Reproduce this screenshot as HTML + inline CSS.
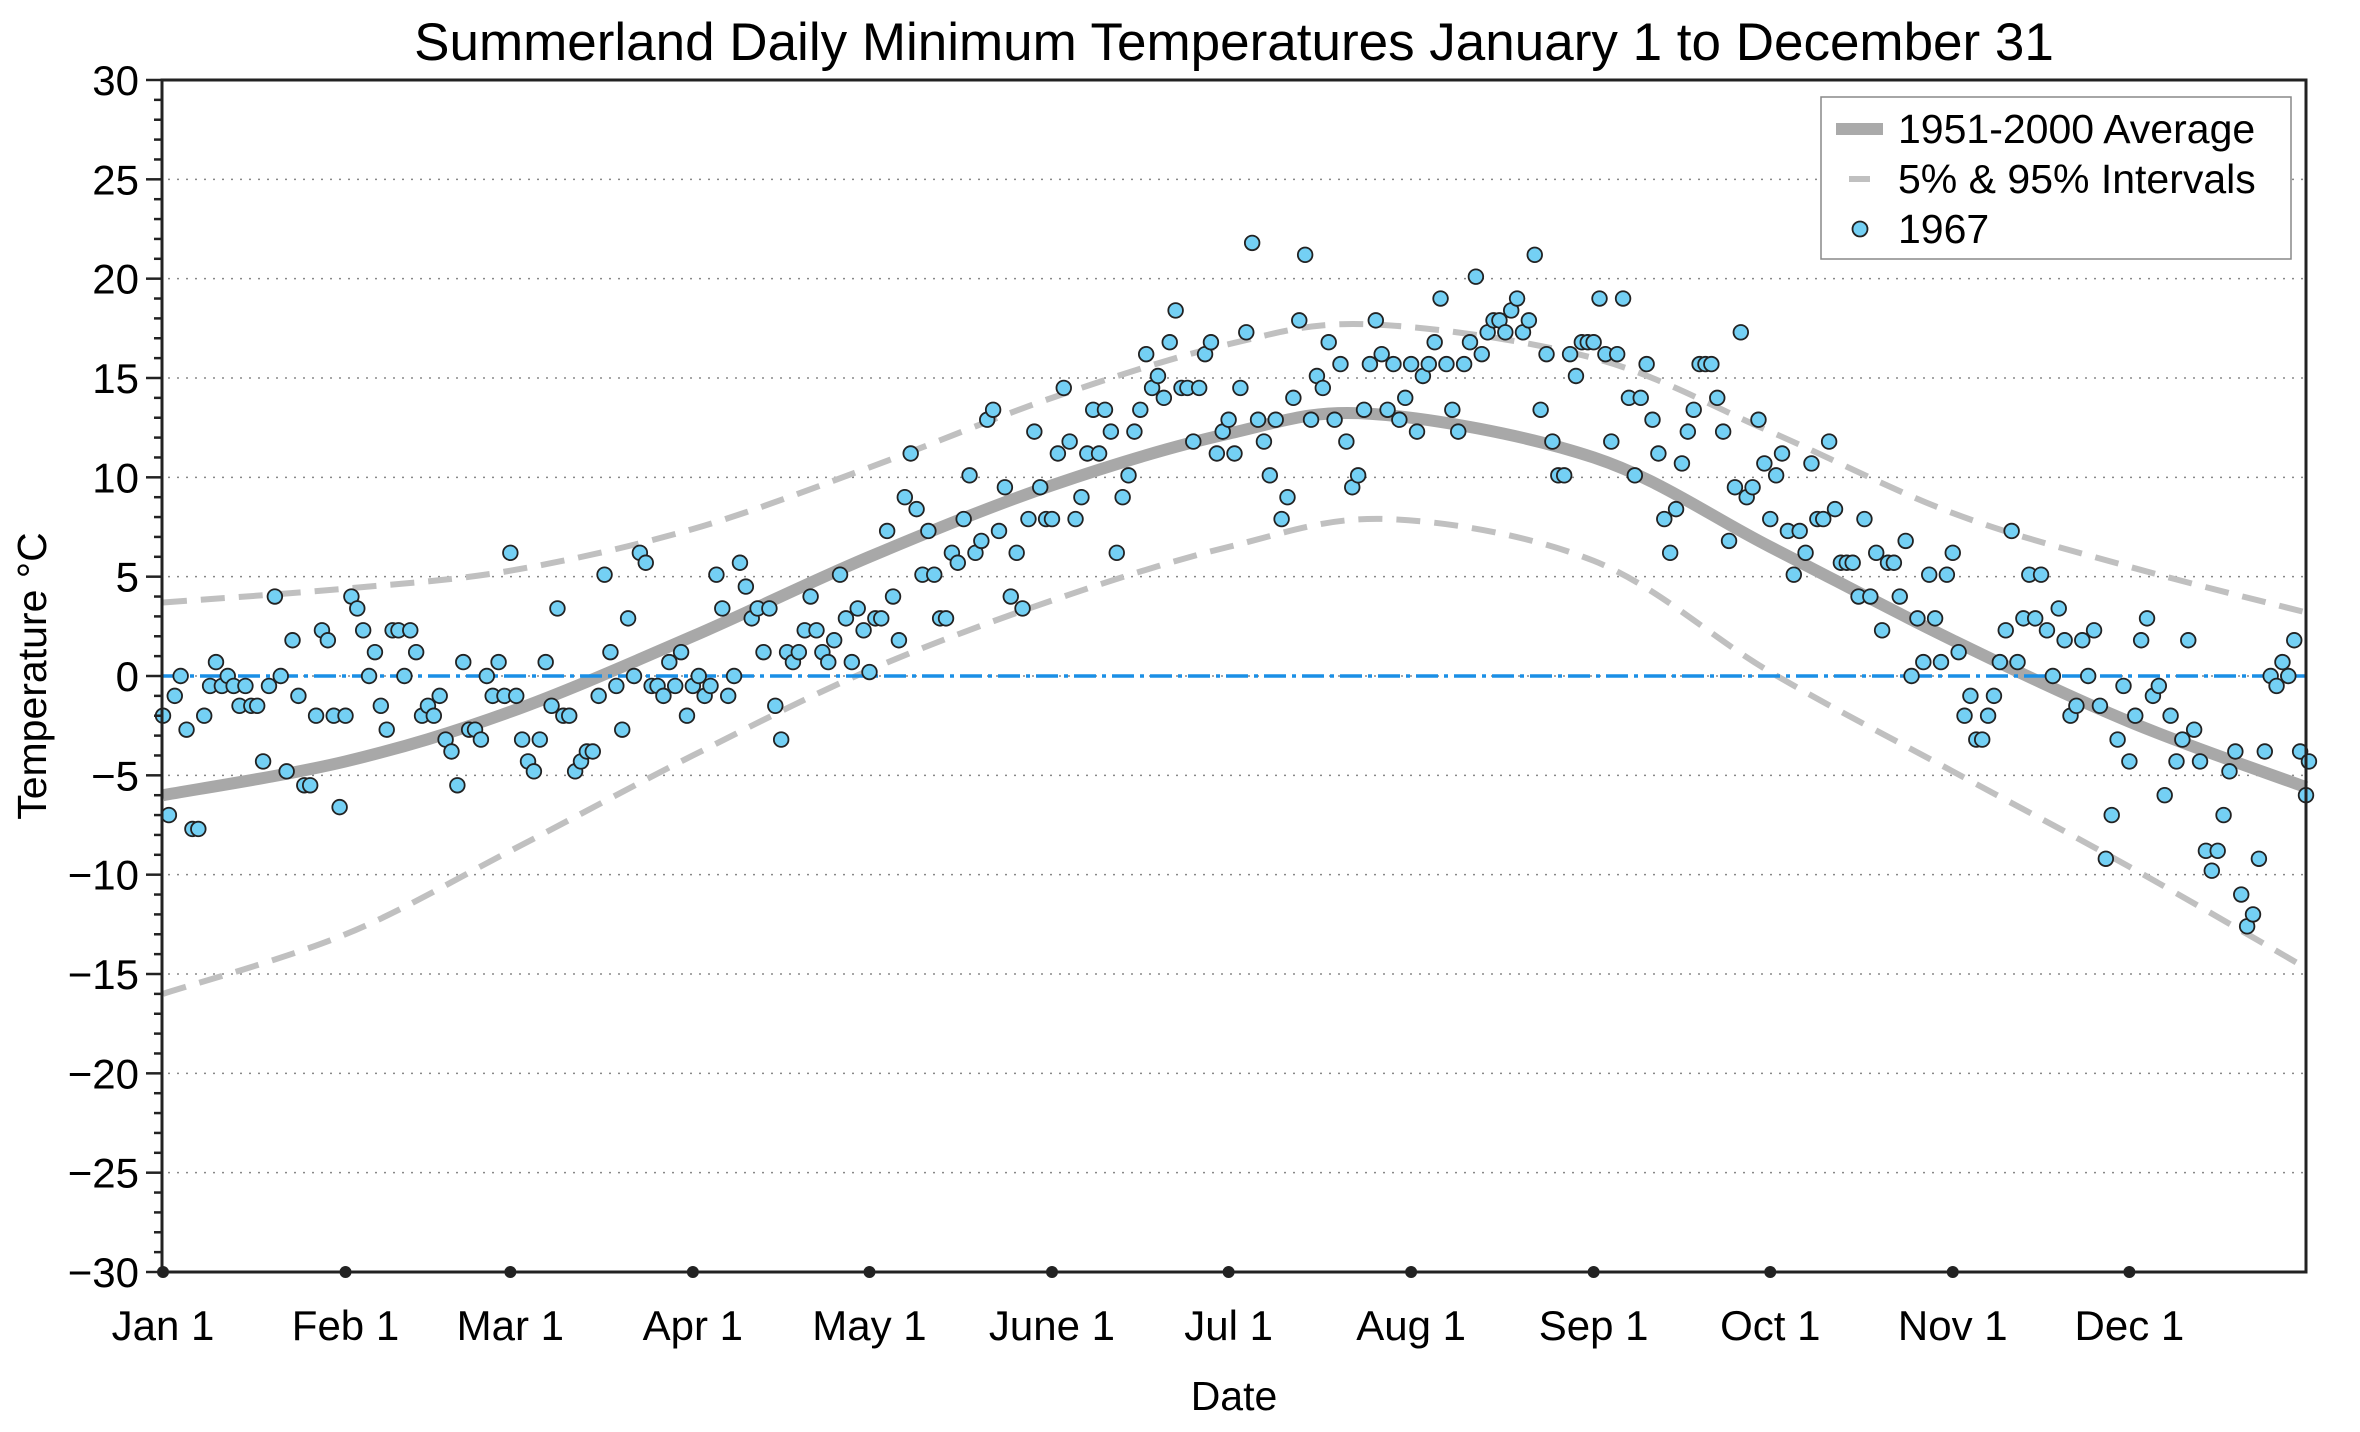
<!DOCTYPE html>
<html><head><meta charset="utf-8"><style>
html,body{margin:0;padding:0;background:#fff;}
svg{display:block;font-family:"Liberation Sans",Arial,sans-serif;}
</style></head><body>
<svg id="s" width="2360" height="1432" xmlns="http://www.w3.org/2000/svg">
<rect width="2360" height="1432" fill="#fff"/>
<g id="grid"></g>
<g id="curves"></g>
<line x1="162" y1="676" x2="2306" y2="676" stroke="#1a8fe6" stroke-width="3.5" stroke-dasharray="22,6,4,6"/>
<g id="pts"></g>
<rect x="162" y="80" width="2144" height="1192" fill="none" stroke="#222" stroke-width="3"/>
<g id="ticks"></g>
<text x="1234" y="60" font-size="53" text-anchor="middle">Summerland Daily Minimum Temperatures January 1 to December 31</text>
<text x="1234" y="1410" font-size="41" text-anchor="middle">Date</text>
<text transform="translate(46,676) rotate(-90)" font-size="41" text-anchor="middle">Temperature °C</text>
<g>
<rect x="1821" y="97" width="470" height="162" fill="#fff" stroke="#888" stroke-width="1.5"/>
<line x1="1836" y1="129" x2="1883" y2="129" stroke="#aaa" stroke-width="12"/>
<line x1="1849" y1="179" x2="1870" y2="179" stroke="#c0c0c0" stroke-width="6"/>
<circle cx="1860" cy="229" r="7.5" fill="#74d0f4" stroke="#222" stroke-width="1.8"/>
<text x="1898" y="143" font-size="41">1951-2000 Average</text>
<text x="1898" y="193" font-size="41">5% &amp; 95% Intervals</text>
<text x="1898" y="243" font-size="41">1967</text>
</g>
</svg>
<script>
const NS="http://www.w3.org/2000/svg";
const X0=163,DX=(2306-163)/364;
const Y=t=>676-t*19.867;
const X=d=>X0+d*DX;
function el(p,n,a,txt){const e=document.createElementNS(NS,n);for(const k in a)e.setAttribute(k,a[k]);if(txt!==undefined)e.textContent=txt;document.getElementById(p).appendChild(e);return e;}
for(let t=-25;t<=25;t+=5){el("grid","line",{x1:168,x2:2304,y1:Y(t),y2:Y(t),stroke:"#888","stroke-width":1.5,"stroke-dasharray":"2,7"});}
for(let t=-30;t<=30;t++){const major=t%5==0;el("ticks","line",{x1:major?146:154,x2:162,y1:Y(t),y2:Y(t),stroke:"#222","stroke-width":2.5});
 if(major)el("ticks","text",{x:139,y:Y(t)+15,"font-size":42,"text-anchor":"end"},(t<0?"\u2212":"")+Math.abs(t));}
const md=[0,31,59,90,120,151,181,212,243,273,304,334],ml=["Jan 1","Feb 1","Mar 1","Apr 1","May 1","June 1","Jul 1","Aug 1","Sep 1","Oct 1","Nov 1","Dec 1"];
md.forEach((d,i)=>{el("ticks","circle",{cx:X(d),cy:1272,r:6,fill:"#222"});el("ticks","text",{x:X(d),y:1340,"font-size":42,"text-anchor":"middle"},ml[i]);});
function curve(days,vals){const P=days.map((d,i)=>[X(d),Y(vals[i])]);let s="M"+P[0][0]+","+P[0][1];
 for(let i=0;i<P.length-1;i++){const p0=P[Math.max(0,i-1)],p1=P[i],p2=P[i+1],p3=P[Math.min(P.length-1,i+2)];
 s+=` C${p1[0]+(p2[0]-p0[0])/6},${p1[1]+(p2[1]-p0[1])/6} ${p2[0]-(p3[0]-p1[0])/6},${p2[1]-(p3[1]-p1[1])/6} ${p2[0]},${p2[1]}`;}return s;}
const cd=[0,31,59,90,120,151,181,205,243,273,304,334,364];
el("curves","path",{d:curve(cd,[3.7,4.4,5.3,7.4,10.5,14,16.7,17.7,16,12.3,8.2,5.5,3.2]),fill:"none",stroke:"#c0c0c0","stroke-width":6,"stroke-dasharray":"24,14"});
el("curves","path",{d:curve([0,31,59,90,120,151,181,208,243,273,304,334,364],[-16,-13,-8.8,-4,0.3,3.8,6.5,7.9,5.8,0.2,-4.8,-9.6,-14.7]),fill:"none",stroke:"#c0c0c0","stroke-width":6,"stroke-dasharray":"24,14"});
el("curves","path",{d:curve(cd,[-6,-4.3,-1.8,2,6,9.6,12.2,13.2,11,6.5,1.8,-2.3,-5.6]),fill:"none",stroke:"#a8a8a8","stroke-width":12});
const v=[-2,-7,-1,0,-2.7,-7.7,-7.7,-2,-0.5,0.7,-0.5,0,-0.5,-1.5,-0.5,-1.5,-1.5,-4.3,-0.5,4,0,-4.8,1.8,-1,-5.5,-5.5,-2,2.3,1.8,-2,-6.6,
-2,4,3.4,2.3,0,1.2,-1.5,-2.7,2.3,2.3,0,2.3,1.2,-2,-1.5,-2,-1,-3.2,-3.8,-5.5,0.7,-2.7,-2.7,-3.2,0,-1,0.7,-1,
6.2,-1,-3.2,-4.3,-4.8,-3.2,0.7,-1.5,3.4,-2,-2,-4.8,-4.3,-3.8,-3.8,-1,5.1,1.2,-0.5,-2.7,2.9,0,6.2,5.7,-0.5,-0.5,-1,0.7,-0.5,1.2,-2,
-0.5,0,-1,-0.5,5.1,3.4,-1,0,5.7,4.5,2.9,3.4,1.2,3.4,-1.5,-3.2,1.2,0.7,1.2,2.3,4,2.3,1.2,0.7,1.8,5.1,2.9,0.7,3.4,2.3,
0.2,2.9,2.9,7.3,4,1.8,9,11.2,8.4,5.1,7.3,5.1,2.9,2.9,6.2,5.7,7.9,10.1,6.2,6.8,12.9,13.4,7.3,9.5,4,6.2,3.4,7.9,12.3,9.5,7.9,
7.9,11.2,14.5,11.8,7.9,9,11.2,13.4,11.2,13.4,12.3,6.2,9,10.1,12.3,13.4,16.2,14.5,15.1,14,16.8,18.4,14.5,14.5,11.8,14.5,16.2,16.8,11.2,12.3,
12.9,11.2,14.5,17.3,21.8,12.9,11.8,10.1,12.9,7.9,9,14,17.9,21.2,12.9,15.1,14.5,16.8,12.9,15.7,11.8,9.5,10.1,13.4,15.7,17.9,16.2,13.4,15.7,12.9,14,
15.7,12.3,15.1,15.7,16.8,19,15.7,13.4,12.3,15.7,16.8,20.1,16.2,17.3,17.9,17.9,17.3,18.4,19,17.3,17.9,21.2,13.4,16.2,11.8,10.1,10.1,16.2,15.1,16.8,16.8,
16.8,19,16.2,11.8,16.2,19,14,10.1,14,15.7,12.9,11.2,7.9,6.2,8.4,10.7,12.3,13.4,15.7,15.7,15.7,14,12.3,6.8,9.5,17.3,9,9.5,12.9,10.7,
7.9,10.1,11.2,7.3,5.1,7.3,6.2,10.7,7.9,7.9,11.8,8.4,5.7,5.7,5.7,4,7.9,4,6.2,2.3,5.7,5.7,4,6.8,0,2.9,0.7,5.1,2.9,0.7,5.1,
6.2,1.2,-2,-1,-3.2,-3.2,-2,-1,0.7,2.3,7.3,0.7,2.9,5.1,2.9,5.1,2.3,0,3.4,1.8,-2,-1.5,1.8,0,2.3,-1.5,-9.2,-7,-3.2,-0.5,
-4.3,-2,1.8,2.9,-1,-0.5,-6,-2,-4.3,-3.2,1.8,-2.7,-4.3,-8.8,-9.8,-8.8,-7,-4.8,-3.8,-11,-12.6,-12,-9.2,-3.8,0,-0.5,0.7,0,1.8,-3.8,-6,-4.3];
v.forEach((t,d)=>{if(d<=365)el("pts","circle",{cx:X(Math.min(d,364.5)),cy:Y(t),r:7.3,fill:"#74d0f4",stroke:"#222","stroke-width":1.8});});
</script>
</body></html>
